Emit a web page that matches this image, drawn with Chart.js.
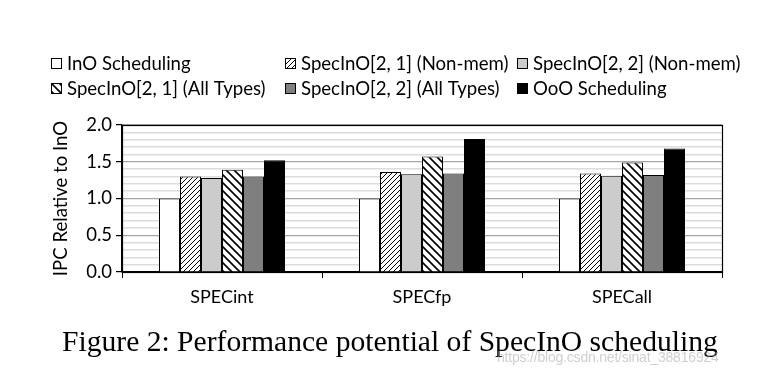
<!DOCTYPE html>
<html>
<head>
<meta charset="utf-8">
<script src="https://cdn.jsdelivr.net/npm/chart.js@4"></script>
<style>
  html, body { margin: 0; padding: 0; background: #fff; }
  #wrap { position: relative; width: 773px; height: 376px; overflow: hidden; }
  #c { position: absolute; left: 0; top: 0; }
  #caption { position: absolute; left: 62px; top: 325px;
    font-family: "Liberation Serif", "DejaVu Serif", serif; font-size: 29.6px; color: #000; white-space: nowrap; }
  #wm { position: absolute; left: 497px; top: 349px; font-family: "Liberation Sans", sans-serif;
    font-size: 14px; color: rgba(160,160,160,0.5); white-space: nowrap; letter-spacing: -0.2px; }
</style>
</head>
<body>
<div id="wrap">
  <canvas id="c" width="773" height="376"></canvas>
  <div id="caption">Figure 2: Performance potential of SpecInO scheduling</div>
  <div id="wm">https://blog.csdn.net/sinat_38816924</div>
</div>
<script>
const categories = ["SPECint", "SPECfp", "SPECall"];
const seriesLabels = [
  "InO Scheduling",
  "SpecInO[2, 1] (Non-mem)",
  "SpecInO[2, 2] (Non-mem)",
  "SpecInO[2, 1] (All Types)",
  "SpecInO[2, 2] (All Types)",
  "OoO Scheduling"
];
const inoScheduling      = [1.00, 1.00, 1.00];
const specino21NonMem    = [1.30, 1.36, 1.34];
const specino22NonMem    = [1.28, 1.33, 1.31];
const specino21AllTypes  = [1.39, 1.57, 1.49];
const specino22AllTypes  = [1.30, 1.34, 1.32];
const oooScheduling      = [1.52, 1.81, 1.68];
const yTicks = [0.0, 0.5, 1.0, 1.5, 2.0];

function hatch(size, lw, forward) {
  const c = document.createElement('canvas');
  c.width = size; c.height = size;
  const g = c.getContext('2d');
  g.fillStyle = '#fff'; g.fillRect(0, 0, size, size);
  g.strokeStyle = '#000'; g.lineWidth = lw;
  g.beginPath();
  if (forward) {
    g.moveTo(-1, size + 1); g.lineTo(size + 1, -1);
    g.moveTo(-1, 1); g.lineTo(1, -1);
    g.moveTo(size - 1, size + 1); g.lineTo(size + 1, size - 1);
  } else {
    g.moveTo(-1, -1); g.lineTo(size + 1, size + 1);
    g.moveTo(size - 1, -1); g.lineTo(size + 1, 1);
    g.moveTo(-1, size - 1); g.lineTo(1, size + 1);
  }
  g.stroke();
  return g.createPattern(c, 'repeat');
}
const ctx = document.getElementById('c').getContext('2d');
const fwdPat = hatch(5, 1, true);
const backPat = hatch(8, 1.6, false);

const fills = ['#ffffff', fwdPat, '#cccccc', backPat, '#7f7f7f', '#000000'];
const values = [inoScheduling, specino21NonMem, specino22NonMem, specino21AllTypes, specino22AllTypes, oooScheduling];

const FONT = 'Lato, "Open Sans", sans-serif';

const legendPlugin = {
  id: 'gridLegend',
  afterDraw(chart) {
    const g = chart.ctx;
    const cols = [51, 285, 517];
    const rows = [70, 95];
    g.save();
    g.font = '18.6px ' + FONT;
    g.textBaseline = 'alphabetic';
    chart.data.datasets.forEach((ds, i) => {
      const x = cols[i % 3], y = rows[Math.floor(i / 3)];
      g.fillStyle = ds.backgroundColor;
      g.fillRect(x, y - 12, 11, 11);
      g.strokeStyle = '#000'; g.lineWidth = 1;
      g.strokeRect(x + 0.5, y - 11.5, 10, 10);
      g.fillStyle = '#000';
      g.fillText(ds.label, x + 16, y);
    });
    g.restore();
  }
};

const frame = {
  id: 'frame',
  afterDatasetsDraw(chart) {
    const a = chart.chartArea, g = chart.ctx;
    g.save();
    g.strokeStyle = '#000'; g.lineWidth = 1.2;
    g.strokeRect(a.left + 0.5, a.top + 0.5, a.right - a.left, a.bottom - a.top);
    g.restore();
  }
};

new Chart(ctx, {
  type: 'bar',
  data: {
    labels: categories,
    datasets: seriesLabels.map((l, i) => ({
      label: l,
      data: values[i],
      backgroundColor: fills[i],
      borderColor: '#000',
      borderWidth: 1,
      borderSkipped: 'bottom'
    }))
  },
  options: {
    responsive: false,
    animation: false,
    devicePixelRatio: 1,
    layout: { padding: { left: 0, top: 125, right: 51, bottom: 0 } },
    plugins: { legend: { display: false }, tooltip: { enabled: false } },
    datasets: { bar: { categoryPercentage: 0.63, barPercentage: 1.0 } },
    scales: {
      x: {
        afterFit(s) { s.height = 104; },
        grid: { offset: true, drawOnChartArea: false, tickLength: 6, color: '#000', lineWidth: 1 },
        border: { color: '#000', width: 1.2 },
        ticks: { font: { family: FONT, size: 18 }, color: '#000', padding: 8 }
      },
      y: {
        min: 0, max: 2.0,
        afterFit(s) { s.width = 122; },
        ticks: {
          stepSize: 0.1, autoSkip: false,
          font: { family: FONT, size: 18.5 }, color: '#000', padding: 4,
          callback(v) {
            const r = Math.round(v * 10);
            return yTicks.some(t => Math.round(t * 10) === r) ? (r / 10).toFixed(1) : '';
          }
        },
        grid: {
          tickLength: 6,
          color(c) { return Math.round(c.tick.value * 10) % 5 === 0 ? '#a6a6a6' : '#dcdcdc'; },
          lineWidth(c) { return Math.round(c.tick.value * 10) % 5 === 0 ? 1.2 : 1.6; },
          tickColor(c) { return Math.round(c.tick.value * 10) % 5 === 0 ? '#000' : 'rgba(0,0,0,0)'; }
        },
        border: { color: '#000', width: 1.2 },
        title: { display: true, text: 'IPC Relative to InO', font: { family: FONT, size: 18.6 }, color: '#000', padding: { top: 50, bottom: 0 } }
      }
    }
  },
  plugins: [legendPlugin, frame]
});
</script>
</body>
</html>
